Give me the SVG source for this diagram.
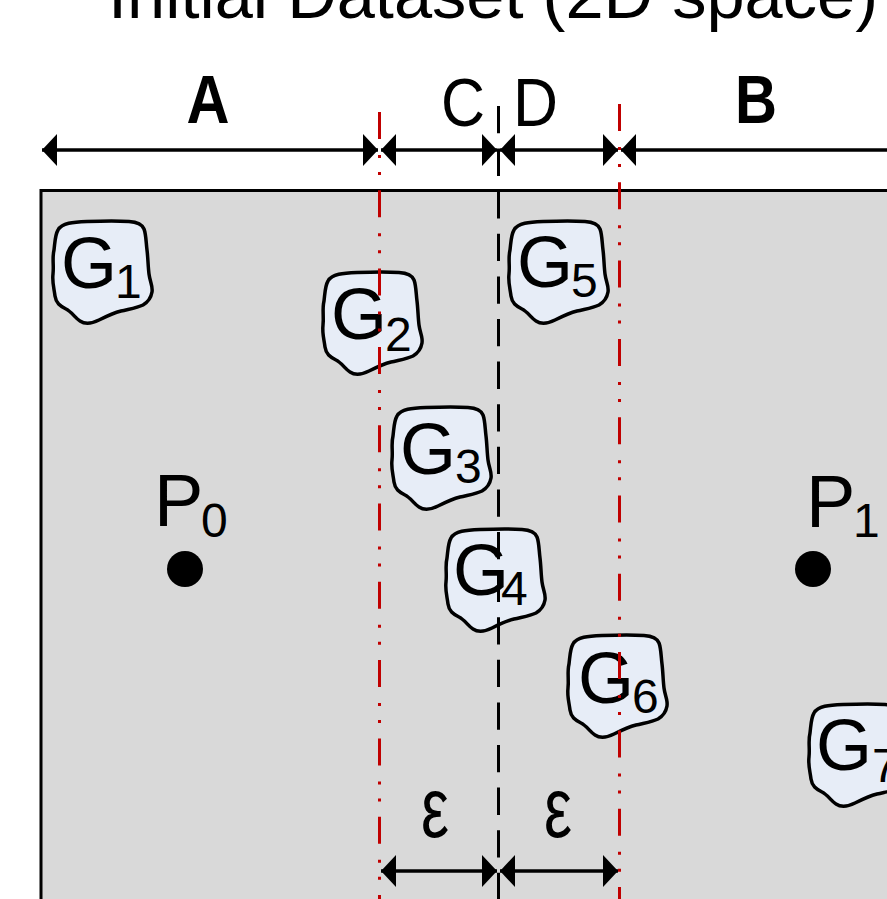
<svg xmlns="http://www.w3.org/2000/svg" xmlns:xlink="http://www.w3.org/1999/xlink" width="887" height="899" viewBox="0 0 887 899">
  <style>
    text { font-family: "Liberation Sans", Arial, sans-serif; fill: #000; }
    .title { font-size: 66px; }
    .lbl { font-size: 68px; }
    .lblb { font-size: 68px; font-weight: bold; }
    .g { font-size: 72px; }
    .sub { font-size: 48px; }
    .eps { font-size: 86px; }
    .blob { fill: #e7edf7; stroke: #000; stroke-width: 3.5; stroke-linejoin: round; }
    .arrow { stroke: #000; stroke-width: 3.5; fill: none; }
    .split { stroke: #000; stroke-width: 3; stroke-dasharray: 27.3 15.3; fill: none; }
    .eps-line { stroke: #c00000; stroke-width: 3; stroke-dasharray: 27 16 3 14 3 15.3; fill: none; }
  </style>
  <defs>
    <!-- irregular hand-drawn cluster outline, ~100 x 104 -->
    <path id="blob" d="M5,10 C9,3 20,2 34,1.5 C48,1 62,0.5 76,1.5 C84,2 89,4 91,9 C93,14 93,22 94,30 C95,38 95,46 96,54 C97,62 100,66 99,72 C98,78 95,82 90,85 C84,88 76,89 68,91 C60,93 54,96 46,100 C40,103 33,105 27,101 C22,98 19,92 13,89 C7,86 3,83 2,76 C1,68 -1,62 0,54 C1,45 -1,38 1,30 C2,22 2,15 5,10 Z"/>
    <marker id="head" viewBox="0 0 15 32" refX="15" refY="16" markerWidth="15" markerHeight="32" markerUnits="userSpaceOnUse" orient="auto-start-reverse">
      <path d="M0,0 L15,16 L0,32 Z" fill="#000"/>
    </marker>
  </defs>

  <!-- title -->
  <text class="title" x="108" y="18" textLength="770" lengthAdjust="spacingAndGlyphs">Initial Dataset (2D space)</text>

  <!-- data space -->
  <rect x="41" y="190.5" width="900" height="800" fill="#d9d9d9" stroke="#000" stroke-width="3"/>

  <!-- points -->
  <g id="p0">
    <circle cx="185" cy="569" r="18" fill="#000"/>
    <text class="g" x="154" y="526" style="font-size:74px">P</text>
    <text class="sub" x="201" y="537">0</text>
  </g>
  <g id="p1">
    <circle cx="813" cy="569" r="18" fill="#000"/>
    <text class="g" x="806" y="527" style="font-size:74px">P</text>
    <text class="sub" x="853" y="537">1</text>
  </g>

  <!-- clusters -->
  <g id="g1" transform="translate(53,220)">
    <use xlink:href="#blob" class="blob"/>
    <text class="g" x="8" y="68">G</text><text class="sub" x="62" y="78">1</text>
  </g>
  <g id="g2" transform="translate(323,271)">
    <use xlink:href="#blob" class="blob"/>
    <text class="g" x="8" y="68">G</text><text class="sub" x="62" y="80">2</text>
  </g>
  <g id="g5" transform="translate(509,220)">
    <use xlink:href="#blob" class="blob"/>
    <text class="g" x="8" y="67">G</text><text class="sub" x="62" y="77">5</text>
  </g>
  <g id="g3" transform="translate(392,406)">
    <use xlink:href="#blob" class="blob"/>
    <text class="g" x="8" y="68">G</text><text class="sub" x="63" y="77">3</text>
  </g>
  <g id="g4" transform="translate(446,528)">
    <use xlink:href="#blob" class="blob"/>
    <text class="g" x="7" y="67">G</text><text class="sub" x="55" y="77">4</text>
  </g>
  <g id="g6" transform="translate(568,634)">
    <use xlink:href="#blob" class="blob"/>
    <text class="g" x="10" y="69">G</text><text class="sub" x="64" y="79">6</text>
  </g>
  <g id="g7" transform="translate(809,703)">
    <use xlink:href="#blob" class="blob"/>
    <text class="g" x="7" y="67">G</text><text class="sub" x="63" y="79">7</text>
  </g>

  <!-- split line and epsilon bands -->
  <g id="guides">
    <line class="split" x1="498.5" y1="106" x2="498.5" y2="899"/>
    <line class="eps-line" x1="379.5" y1="112" x2="379.5" y2="899"/>
    <line class="eps-line" x1="619.5" y1="104" x2="619.5" y2="899"/>
  </g>

  <!-- extent arrows -->
  <g id="connectors">
    <line class="arrow" x1="42" y1="150" x2="378" y2="150" marker-start="url(#head)" marker-end="url(#head)"/>
    <line class="arrow" x1="381" y1="150" x2="497" y2="150" marker-start="url(#head)" marker-end="url(#head)"/>
    <line class="arrow" x1="500" y1="150" x2="618" y2="150" marker-start="url(#head)" marker-end="url(#head)"/>
    <line class="arrow" x1="621" y1="150" x2="900" y2="150" marker-start="url(#head)"/>
    <line class="arrow" x1="381" y1="871" x2="497" y2="871" marker-start="url(#head)" marker-end="url(#head)"/>
    <line class="arrow" x1="500" y1="871" x2="618" y2="871" marker-start="url(#head)" marker-end="url(#head)"/>
  </g>

  <!-- region labels -->
  <g id="labels">
    <text class="lblb" x="208" y="123" text-anchor="middle" textLength="43" lengthAdjust="spacingAndGlyphs">A</text>
    <text class="lbl" x="441" y="126" textLength="44" lengthAdjust="spacingAndGlyphs">C</text>
    <text class="lbl" x="513" y="126" textLength="45" lengthAdjust="spacingAndGlyphs">D</text>
    <text class="lblb" x="735" y="123" textLength="42" lengthAdjust="spacingAndGlyphs">B</text>
    <text class="eps" x="421" y="837" textLength="28" lengthAdjust="spacingAndGlyphs">ε</text>
    <text class="eps" x="544" y="837" textLength="28" lengthAdjust="spacingAndGlyphs">ε</text>
  </g>
</svg>
